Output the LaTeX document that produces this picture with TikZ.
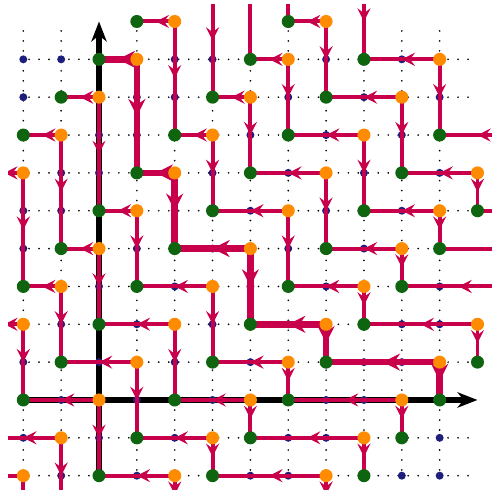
\documentclass[tikz,border=0pt]{standalone}
\usetikzlibrary{arrows.meta,decorations.markings}
\definecolor{edgered}{RGB}{200,0,75}
\definecolor{ngreen}{RGB}{15,100,15}
\definecolor{norange}{RGB}{255,140,0}
\definecolor{nblue}{RGB}{30,30,125}
\tikzset{
  gridline/.style={black, line width=1.4pt, line cap=round, dash pattern=on 0pt off 7.5pt},
  axisline/.style={black, line width=4pt, -{Stealth[length=15pt,width=11.5pt,inset=4.5pt]}},
  redarrow/.style={draw=edgered, line width=3pt, postaction={decorate},
    decoration={markings, mark=at position 0.5 with {\arrow[edgered]{Stealth[length=10pt,width=10pt,inset=3.8pt,line width=0pt]}}}},
  redthick/.style={draw=edgered, line width=5pt, postaction={decorate},
    decoration={markings, mark=at position 0.5 with {\arrow[edgered]{Stealth[length=13pt,width=13pt,inset=4.5pt,line width=0pt]}}}},
  gnode/.style={circle, fill=ngreen, minimum size=9.8pt, inner sep=0pt},
  onode/.style={circle, fill=norange, minimum size=9.8pt, inner sep=0pt},
  bnode/.style={circle, fill=nblue, minimum size=6pt, inner sep=0pt},
}
\begin{document}
\begin{tikzpicture}[x=1cm,y=1cm]
\useasboundingbox (-2.616,-2.378) rectangle (10.383,10.568);
% lattice coordinates
\foreach \x in {-4,...,13}{\foreach \y in {-4,...,13}{\coordinate (c\x_\y) at (\x,\y);}}
% dotted grid
\foreach \y in {-2,...,9} \draw[gridline] (9.75,\y) -- (-2,\y);
\foreach \x in {-2,...,9} \draw[gridline] (\x,9.75) -- (\x,-2);
% axes
\draw[axisline] (c0_-2) -- (c0_10);
\draw[axisline] (c-2_0) -- (c10_0);
% blue points
\foreach \x/\y in {-2/9,-1/9,2/9,3/9,6/9,8/9,
  -2/8,1/8,2/8,5/8,7/8,9/8,
  0/7,1/7,4/7,6/7,8/7,
  -1/6,0/6,3/6,5/6,7/6,9/6,
  -2/5,-1/5,2/5,4/5,6/5,8/5,
  -2/4,1/4,3/4,5/4,7/4,
  0/3,2/3,4/3,6/3,9/3,
  -1/2,1/2,3/2,5/2,8/2,9/2,
  -2/1,0/1,2/1,4/1,7/1,8/1,
  -1/0,1/0,3/0,6/0,7/0,
  -2/-1,0/-1,2/-1,5/-1,6/-1,9/-1,
  -1/-2,1/-2,4/-2,5/-2,8/-2,9/-2}
  \node[bnode] (b\x_\y) at (c\x_\y) {};
% edges
\begin{scope}
\clip (-2.4,-2.5) rectangle (10.5,10.45);
\foreach \a/\b/\c/\d in {2/10/2/7, 6/10/6/8, 5/9/5/7, 9/9/9/7, 0/8/0/5, 4/8/4/6, 8/8/8/6,
  -1/7/-1/4, 3/7/3/5, 7/7/7/5, -2/6/-2/3, 6/6/6/4, 10/6/10/5, 1/5/1/3, 5/5/5/3, 9/5/9/4,
  0/4/0/2, 8/4/8/3, -1/3/-1/1, 3/3/3/1, 7/3/7/2, -2/2/-2/0, 2/2/2/0, 10/2/10/1, 1/1/1/-1,
  5/1/5/0, 0/0/0/-2, 4/0/4/-1, 8/0/8/-1, -1/-1/-1/-3, 3/-1/3/-2, 7/-1/7/-2, -2/-2/-2/-4,
  2/-2/2/-3, 6/-2/6/-3, 3/11/3/8, 4/12/4/9, 5/13/5/10, 7/11/7/9,
  2/10/1/10, 6/10/5/10, 5/9/4/9, 9/9/7/9, 0/8/-1/8, 4/8/3/8, 8/8/6/8, -1/7/-2/7, 3/7/2/7,
  7/7/5/7, -2/6/-3/6, 6/6/4/6, 10/6/8/6, 1/5/0/5, 5/5/3/5, 9/5/7/5, 0/4/-1/4, 8/4/6/4,
  -1/3/-2/3, 3/3/1/3, 7/3/5/3, -2/2/-3/2, 2/2/0/2, 10/2/7/2, 1/1/-1/1, 5/1/3/1, 0/0/-2/0,
  4/0/2/0, 8/0/5/0, -1/-1/-3/-1, 3/-1/1/-1, 7/-1/4/-1, -2/-2/-4/-2, 2/-2/0/-2, 6/-2/3/-2,
  11/7/9/7, 13/5/10/5, 12/4/9/4, 11/3/8/3}
  \draw[redarrow] (c\a_\b) -- (c\c_\d);
\foreach \a/\b/\c/\d in {1/9/0/9, 1/9/1/6, 2/6/1/6, 2/6/2/4, 4/4/2/4, 4/4/4/2, 6/2/4/2, 6/2/6/1, 9/1/6/1, 9/1/9/0}
  \draw[redthick] (c\a_\b) -- (c\c_\d);
\end{scope}
% green points
\foreach \x/\y in {1/10, 5/10, 0/9, 4/9, 7/9, -1/8, 3/8, 6/8, -2/7, 2/7, 5/7, 9/7, 1/6, 4/6, 8/6,
  0/5, 3/5, 7/5, 10/5, -1/4, 2/4, 6/4, 9/4, -2/3, 1/3, 5/3, 8/3, 0/2, 4/2, 7/2, -1/1, 3/1, 6/1,
  10/1, -2/0, 2/0, 5/0, 9/0, 1/-1, 4/-1, 8/-1, 0/-2, 3/-2, 7/-2}
  \node[gnode] (g\x_\y) at (c\x_\y) {};
% orange points
\foreach \x/\y in {2/10, 6/10, 1/9, 5/9, 9/9, 0/8, 4/8, 8/8, -1/7, 3/7, 7/7, -2/6, 2/6, 6/6, 10/6,
  1/5, 5/5, 9/5, 0/4, 4/4, 8/4, -1/3, 3/3, 7/3, -2/2, 2/2, 6/2, 10/2, 1/1, 5/1, 9/1, 0/0, 4/0,
  8/0, -1/-1, 3/-1, 7/-1, -2/-2, 2/-2, 6/-2}
  \node[onode] (o\x_\y) at (c\x_\y) {};
\end{tikzpicture}
\end{document}
